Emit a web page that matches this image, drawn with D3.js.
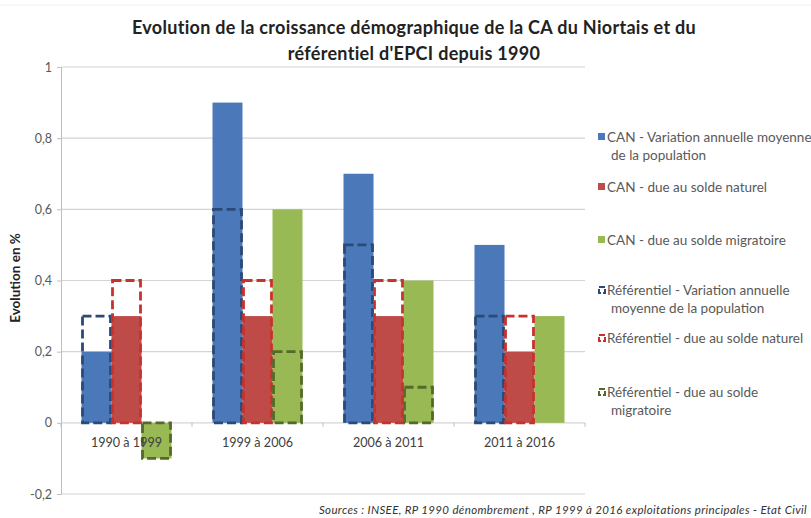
<!DOCTYPE html>
<html>
<head>
<meta charset="utf-8">
<script src="https://cdn.jsdelivr.net/npm/d3@7"></script>
<style>
  body { margin: 0; background: #fff; }
  svg { display: block; font-family: Lato, "Open Sans", sans-serif; }
</style>
</head>
<body>
<div id="chart"></div>
<script>
// Periods on the x axis
const periods = ['1990 à 1999', '1999 à 2006', '2006 à 2011', '2011 à 2016'];

// CA du Niortais (filled bars)
const canVariation = [0.2, 0.9, 0.7, 0.5];
const canNaturel = [0.3, 0.3, 0.3, 0.2];
const canMigratoire = [-0.1, 0.6, 0.4, 0.3];

// Référentiel d'EPCI (dashed outline bars)
const refVariation = [0.3, 0.6, 0.5, 0.3];
const refNaturel = [0.4, 0.4, 0.4, 0.3];
const refMigratoire = [-0.1, 0.2, 0.1, 0];

const yTicks = [-0.2, 0, 0.2, 0.4, 0.6, 0.8, 1];

const seriesNames = [
    ['CAN - Variation annuelle moyenne', 'de la population'],
    ['CAN - due au solde naturel'],
    ['CAN - due au solde migratoire'],
    ['Référentiel - Variation annuelle', 'moyenne de la population'],
    ['Référentiel - due au solde naturel'],
    ['Référentiel - due au solde', 'migratoire'],
];

const fills = ['#4a78b8', '#be4b48', '#98b954'];
const dashColors = ['#2b4a78', '#c8322c', '#55692a'];

const W = 811, H = 518;
const plot = { left: 61, right: 585, top: 67, bottom: 494 };

const svg = d3.select('#chart').append('svg')
    .attr('width', W)
    .attr('height', H);

// Scales
const x = d3.scaleBand()
    .domain(periods)
    .range([plot.left, plot.right]);

const inner = d3.scaleBand()
    .domain([0, 1, 2])
    .range([0, 90]);

const y = d3.scaleLinear()
    .domain([-0.2, 1])
    .range([plot.bottom, plot.top]);

const fmt = v => d3.format('.1~f')(v).replace('.', ',').replace('−', '-');

// Faint chart border line at top
svg.append('line')
    .attr('x1', 0).attr('x2', W)
    .attr('y1', 5).attr('y2', 5)
    .attr('stroke', '#f0f0f0');

// Gridlines
svg.append('g')
    .selectAll('line')
    .data(yTicks)
    .enter()
    .append('line')
    .attr('x1', plot.left)
    .attr('x2', plot.right)
    .attr('y1', d => y(d))
    .attr('y2', d => y(d))
    .attr('stroke', '#d4d4d4')
    .attr('stroke-width', 1.2);

// Y axis
const yAxis = svg.append('g')
    .attr('transform', `translate(${plot.left},0)`)
    .call(d3.axisLeft(y).tickValues(yTicks).tickSize(4).tickFormat(fmt));
yAxis.select('.domain').attr('stroke', '#bfbfbf');
yAxis.selectAll('.tick line').attr('stroke', '#bfbfbf');
yAxis.selectAll('.tick text')
    .attr('x', -9)
    .attr('fill', '#595959')
    .attr('font-size', '12.5px')
    .attr('font-family', 'Lato, sans-serif');

// Zero axis ticks between categories
svg.append('g')
    .selectAll('line')
    .data(d3.range(periods.length + 1))
    .enter()
    .append('line')
    .attr('x1', i => plot.left + i * x.bandwidth())
    .attr('x2', i => plot.left + i * x.bandwidth())
    .attr('y1', y(0))
    .attr('y2', y(0) + 4)
    .attr('stroke', '#bfbfbf');

const groupX = (p, i) => x(p) + (x.bandwidth() - 90) / 2 + inner(i);

// CAN filled bars
const canSeries = [canVariation, canNaturel, canMigratoire];
canSeries.forEach((vals, s) => {
    svg.append('g')
        .selectAll('rect')
        .data(periods.map((p, i) => ({ p, v: vals[i] })))
        .enter()
        .append('rect')
        .attr('x', d => groupX(d.p, s))
        .attr('width', inner.bandwidth())
        .attr('y', d => y(Math.max(0, d.v)))
        .attr('height', d => Math.abs(y(d.v) - y(0)))
        .attr('fill', fills[s]);
});

// Référentiel dashed bars
const refSeries = [refVariation, refNaturel, refMigratoire];
refSeries.forEach((vals, s) => {
    svg.append('g')
        .selectAll('rect')
        .data(periods.map((p, i) => ({ p, v: vals[i] })).filter(d => d.v !== 0))
        .enter()
        .append('rect')
        .attr('x', d => groupX(d.p, s) + 1)
        .attr('width', inner.bandwidth() - 2)
        .attr('y', d => y(Math.max(0, d.v)))
        .attr('height', d => Math.abs(y(d.v) - y(0)))
        .attr('fill', 'none')
        .attr('stroke', dashColors[s])
        .attr('stroke-width', 2.8)
        .attr('stroke-dasharray', '9,4');
});

// X labels (drawn over the bars, like the original)
svg.append('g')
    .selectAll('text')
    .data(periods)
    .enter()
    .append('text')
    .attr('x', d => x(d) + x.bandwidth() / 2)
    .attr('y', y(0) + 24)
    .attr('text-anchor', 'middle')
    .attr('fill', '#404040')
    .attr('font-size', '12.6px')
    .text(d => d);

// Title
const title = svg.append('text')
    .attr('text-anchor', 'middle')
    .attr('font-size', '18px')
    .attr('font-weight', 'bold')
    .attr('letter-spacing', '0.3px')
    .attr('fill', '#222');
title.append('tspan').attr('x', 414).attr('y', 34)
    .text('Evolution de la croissance démographique de la CA du Niortais et du');
title.append('tspan').attr('x', 414).attr('y', 60)
    .text("référentiel d'EPCI depuis 1990");

// Y axis title
svg.append('text')
    .attr('transform', 'translate(20,278) rotate(-90)')
    .attr('text-anchor', 'middle')
    .attr('font-size', '13.5px')
    .attr('font-weight', 'bold')
    .attr('fill', '#222')
    .text('Evolution en %');

// Legend
const legendY = [137, 187, 240, 290, 338, 392];
const legend = svg.append('g');
seriesNames.forEach((lines, i) => {
    const yy = legendY[i];
    if (i < 3) {
        legend.append('rect')
            .attr('x', 598).attr('y', yy - 4)
            .attr('width', 7).attr('height', 7)
            .attr('fill', fills[i]);
    } else {
        legend.append('rect')
            .attr('x', 599).attr('y', yy - 3)
            .attr('width', 6).attr('height', 6)
            .attr('fill', 'none')
            .attr('stroke', dashColors[i - 3])
            .attr('stroke-width', 2)
            .attr('stroke-dasharray', '6,2');
    }
    const t = legend.append('text')
        .attr('font-size', '13.5px')
        .attr('fill', '#595959');
    lines.forEach((line, k) => {
        t.append('tspan')
            .attr('x', k === 0 ? 607 : 611)
            .attr('y', yy + 5 + k * 18)
            .text(line);
    });
});

// Source
svg.append('text')
    .attr('x', 807)
    .attr('y', 514)
    .attr('text-anchor', 'end')
    .attr('font-size', '11.5px')
    .attr('letter-spacing', '0.35px')
    .attr('font-style', 'italic')
    .attr('fill', '#333')
    .text('Sources : INSEE, RP 1990 dénombrement , RP 1999 à 2016 exploitations principales - Etat Civil');
</script>
</body>
</html>
